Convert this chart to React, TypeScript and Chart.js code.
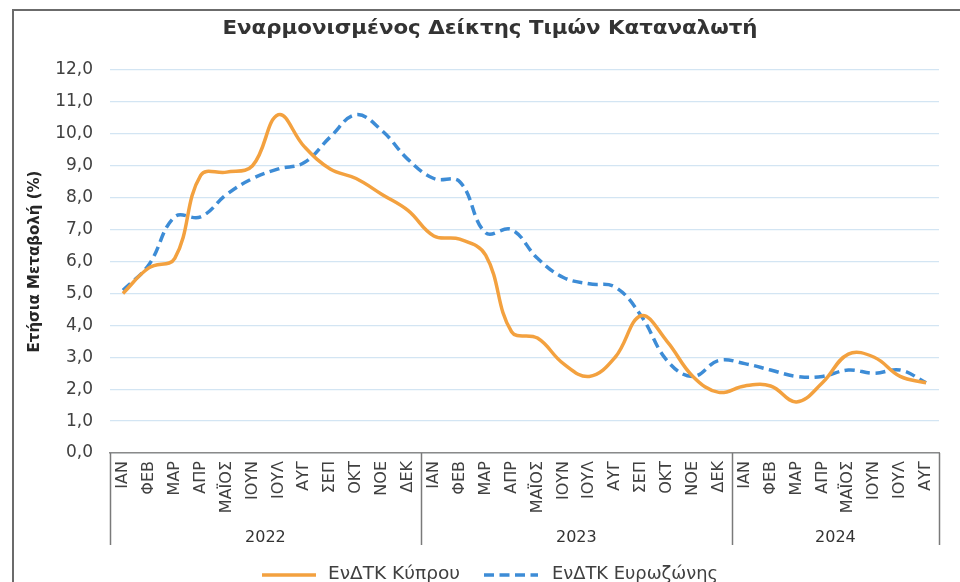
import React, { useEffect, useRef } from "react";
import { Chart, registerables } from "chart.js";

Chart.register(...registerables);

const monthNames = ["ΙΑΝ", "ΦΕΒ", "ΜΑΡ", "ΑΠΡ", "ΜΑΪΟΣ", "ΙΟΥΝ", "ΙΟΥΛ", "ΑΥΓ", "ΣΕΠ", "ΟΚΤ", "ΝΟΕ", "ΔΕΚ"];
const years = ["2022", "2023", "2024"];
const monthsPerYear = [12, 12, 8];

const cyprusLabel = "ΕνΔΤΚ Κύπρου";
const euroLabel = "ΕνΔΤΚ Ευρωζώνης";

const cyprus = [
  5.0, 5.8, 6.1, 8.7, 8.8, 9.0, 10.6, 9.6, 8.9, 8.6, 8.1, 7.6,
  6.8, 6.7, 6.2, 3.8, 3.6, 2.8, 2.4, 3.0, 4.3, 3.5, 2.4, 1.9,
  2.1, 2.1, 1.6, 2.2, 3.1, 3.0, 2.4, 2.2,
];
const eurozone = [
  5.1, 5.9, 7.4, 7.4, 8.1, 8.6, 8.9, 9.1, 9.9, 10.6, 10.1, 9.2,
  8.6, 8.5, 6.9, 7.0, 6.1, 5.5, 5.3, 5.2, 4.3, 2.9, 2.4, 2.9,
  2.8, 2.6, 2.4, 2.4, 2.6, 2.5, 2.6, 2.2,
];

const title = "Εναρμονισμένος Δείκτης Τιμών Καταναλωτή";
const yTitle = "Ετήσια Μεταβολή (%)";

const FONT = "'DejaVu Sans', Verdana, sans-serif";
const ORANGE = "#F3A13F";
const BLUE = "#3D8CD6";

const categories: string[] = [];
monthsPerYear.forEach((n) => {
  for (let i = 0; i < n; i++) categories.push(monthNames[i]);
});

function fitText(ctx: CanvasRenderingContext2D, text: string, x: number, y: number, width: number) {
  const w = ctx.measureText(text).width;
  const s = w > 0 ? width / w : 1;
  ctx.save();
  ctx.translate(x, y);
  ctx.scale(s, 1);
  ctx.fillText(text, 0, 0);
  ctx.restore();
}

const decorPlugin = {
  id: "decor",
  afterDraw(chart: any) {
    const ctx = chart.ctx as CanvasRenderingContext2D;
    const area = chart.chartArea;
    const xs = chart.scales.x;
    ctx.save();

    // outer frame
    ctx.strokeStyle = "#6b6b6b";
    ctx.lineWidth = 2;
    ctx.beginPath();
    ctx.moveTo(13, 600);
    ctx.lineTo(13, 10);
    ctx.lineTo(962, 10);
    ctx.stroke();

    // title
    ctx.fillStyle = "#333333";
    ctx.font = `bold 19px ${FONT}`;
    ctx.textAlign = "center";
    ctx.textBaseline = "middle";
    fitText(ctx, title, 490, 29, 535);

    // y title
    ctx.save();
    ctx.translate(35, (area.top + area.bottom) / 2);
    ctx.rotate(-Math.PI / 2);
    ctx.font = `bold 15px ${FONT}`;
    ctx.fillStyle = "#262626";
    ctx.fillText(yTitle, 0, 0);
    ctx.restore();

    // year groups
    const bottom = area.bottom + 92;
    ctx.strokeStyle = "#7a7a7a";
    ctx.lineWidth = 1.5;
    let start = 0;
    const half = (xs.getPixelForValue(1) - xs.getPixelForValue(0)) / 2;
    const edges: number[] = [xs.getPixelForValue(0) - half];
    monthsPerYear.forEach((n, gi) => {
      const end = start + n - 1;
      const xr = xs.getPixelForValue(end) + half;
      edges.push(xr);
      const xc = (xs.getPixelForValue(start) + xs.getPixelForValue(end)) / 2;
      ctx.fillStyle = "#333333";
      ctx.font = `16px ${FONT}`;
      ctx.textAlign = "center";
      ctx.textBaseline = "middle";
      ctx.fillText(years[gi], xc, area.bottom + 85);
      start += n;
    });
    edges.forEach((x) => {
      ctx.beginPath();
      ctx.moveTo(Math.round(x) + 0.5, area.bottom);
      ctx.lineTo(Math.round(x) + 0.5, bottom);
      ctx.stroke();
    });

    // legend
    const ly = 575;
    ctx.lineWidth = 3.5;
    ctx.strokeStyle = ORANGE;
    ctx.setLineDash([]);
    ctx.beginPath();
    ctx.moveTo(262, ly);
    ctx.lineTo(316, ly);
    ctx.stroke();
    ctx.strokeStyle = BLUE;
    ctx.setLineDash([10, 5.5]);
    ctx.beginPath();
    ctx.moveTo(484, ly);
    ctx.lineTo(538, ly);
    ctx.stroke();
    ctx.setLineDash([]);
    ctx.fillStyle = "#404040";
    ctx.font = `17px ${FONT}`;
    ctx.textAlign = "left";
    ctx.textBaseline = "middle";
    fitText(ctx, cyprusLabel, 328, ly, 132);
    fitText(ctx, euroLabel, 552, ly, 166);

    ctx.restore();
  },
};

export default function App() {
  const ref = useRef<HTMLCanvasElement | null>(null);

  useEffect(() => {
    if (!ref.current) return;
    const chart = new Chart(ref.current, {
      type: "line",
      data: {
        labels: categories,
        datasets: [
          {
            label: cyprusLabel,
            data: cyprus,
            borderColor: ORANGE,
            backgroundColor: ORANGE,
            borderWidth: 3.5,
            pointRadius: 0,
            tension: 0.4,
            fill: false,
          },
          {
            label: euroLabel,
            data: eurozone,
            borderColor: BLUE,
            backgroundColor: BLUE,
            borderWidth: 3.5,
            borderDash: [10, 5.5],
            pointRadius: 0,
            tension: 0.4,
            fill: false,
          },
        ],
      },
      options: {
        animation: false,
        responsive: true,
        maintainAspectRatio: false,
        layout: { padding: { top: 70, left: 0, right: 21, bottom: 0 } },
        plugins: {
          legend: { display: false },
          tooltip: { enabled: false },
          title: { display: false },
        },
        scales: {
          x: {
            offset: true,
            grid: { display: false, drawTicks: false },
            border: { display: true, color: "#8a8a8a", width: 1.5 },
            ticks: {
              autoSkip: false,
              minRotation: 90,
              maxRotation: 90,
              padding: 8,
              color: "#404040",
              font: { family: FONT, size: 16 },
            },
            afterFit(scale: any) {
              scale.height = 129;
              scale.paddingLeft = 0;
              scale.paddingRight = 0;
            },
          },
          y: {
            min: 0,
            max: 12,
            grid: { color: "#d3e5f3", lineWidth: 1.2, drawTicks: false },
            border: { display: false },
            ticks: {
              stepSize: 1,
              padding: 17,
              color: "#404040",
              font: { family: FONT, size: 17 },
              callback: (v: any) => Number(v).toFixed(1).replace(".", ","),
            },
            afterFit(scale: any) {
              scale.width = 110;
              scale.paddingTop = 0;
              scale.paddingBottom = 0;
            },
          },
        },
      },
      plugins: [decorPlugin],
    });
    return () => chart.destroy();
  }, []);

  return (
    <div style={{ position: "fixed", left: 0, top: 0, width: 960, height: 582, background: "#fff" }}>
      <canvas ref={ref} />
    </div>
  );
}
